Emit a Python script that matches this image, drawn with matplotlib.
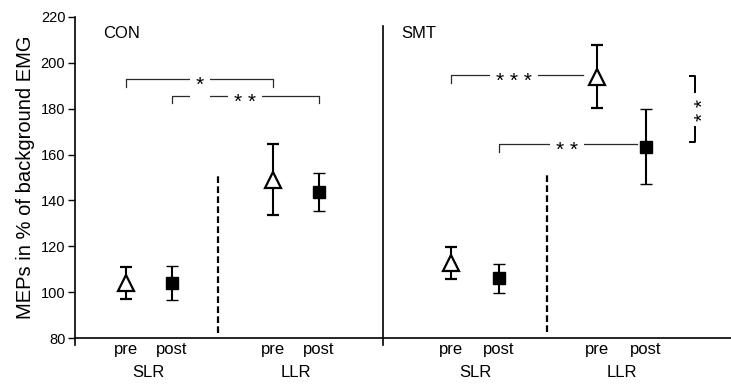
import matplotlib
matplotlib.use("Agg")
import matplotlib.pyplot as plt
import matplotlib.transforms as mtransforms

plt.rcParams['font.family'] = ['Liberation Sans', 'DejaVu Sans']

# ---- data ----
groups = ["CON", "SMT"]
conditions = ["pre", "post", "pre", "post"]
reflexes = ["SLR", "LLR"]
con_x = [1.1, 2.1, 4.3, 5.3]
smt_x = [8.17, 9.22, 11.35, 12.41]
con_mean = [104.0, 104.0, 149.0, 143.5]
con_err = [7.0, 7.5, 15.5, 8.3]
smt_mean = [112.6, 106.0, 194.0, 163.5]
smt_err = [6.9, 6.3, 13.7, 16.5]
markers = ["^", "s", "^", "s"]

fig = plt.figure(figsize=(7.31, 3.89), dpi=100)
ax = fig.add_axes([75/731, 51/389, 656/731, 321/389])
ax.set_xlim(0, 14.26)
ax.set_ylim(80, 220)

for xs, ms, es in [(con_x, con_mean, con_err), (smt_x, smt_mean, smt_err)]:
    for x, m, e, mk in zip(xs, ms, es, markers):
        if mk == "^":
            ax.errorbar(x, m, yerr=e, fmt="^", ms=11.5, mfc="white", mec="black",
                        mew=1.6, ecolor="black", elinewidth=1.5, capsize=4.6,
                        capthick=1.5, zorder=3)
        else:
            ax.errorbar(x, m, yerr=e, fmt="s", ms=9, mfc="black", mec="black",
                        mew=1.0, ecolor="black", elinewidth=1.5, capsize=4.6,
                        capthick=1.5, zorder=3)

# spines
for s in ["top", "right"]:
    ax.spines[s].set_visible(False)
ax.spines["left"].set_linewidth(1.2)
ax.spines["bottom"].set_linewidth(1.2)
ax.set_yticks(range(80, 221, 20))
ax.tick_params(axis="y", direction="out", length=5, width=1.0, labelsize=10.5, pad=2)
ax.set_xticks(con_x + smt_x)
ax.set_xticklabels(conditions + conditions)
ax.tick_params(axis="x", length=0, labelsize=12, pad=3)
ax.set_ylabel("MEPs in % of background EMG", fontsize=14.5, labelpad=4)

# small downward extension of the y axis
ax.plot([0, 0], [80, 77], color="black", lw=1.2, clip_on=False)

# panel divider and dashed separators
ax.plot([6.70, 6.70], [77, 216], color="black", lw=1.2, clip_on=False)
ax.plot([3.11, 3.11], [82, 151.5], color="black", lw=1.6, ls=(0, (3, 1.5)))
ax.plot([10.26, 10.26], [82.6, 151], color="black", lw=1.6, ls=(0, (3, 1.5)))

# titles
ax.text(0.61, 213, groups[0], fontsize=12, ha="left", va="center")
ax.text(7.09, 213, groups[1], fontsize=12, ha="left", va="center")

# group labels
trans = mtransforms.blended_transform_factory(ax.transData, ax.transAxes)
for xs in (con_x, smt_x):
    for i, r in enumerate(reflexes):
        xm = (xs[2*i] + xs[2*i+1]) / 2
        ax.text(xm, -0.085, r, transform=trans, fontsize=12, ha="center", va="top")

bcol = "#2a2a2a"
def stars(x, y, s):
    ax.annotate(s, (x, y), xytext=(0, -0.57*15), textcoords="offset points",
                ha="center", va="baseline", fontsize=15,
                bbox=dict(boxstyle="square,pad=0.3", fc="white", ec="none"), zorder=4)

def bracket(x1, x2, y, drop1, drop2, sx, s):
    xs, ys = [], []
    if drop1 is not None:
        xs.append(x1); ys.append(drop1)
    xs += [x1, x2]; ys += [y, y]
    if drop2 is not None:
        xs.append(x2); ys.append(drop2)
    ax.plot(xs, ys, color=bcol, lw=0.9, zorder=2)
    stars(sx, y, s)

bracket(con_x[0], con_x[2], 192.8, 189.3, 189.3, 2.72, "*")
bracket(con_x[1], con_x[3], 185.5, 182.4, 182.4, 3.70, "* *")
bracket(smt_x[0], 11.04, 194.7, 191.2, None, 9.54, "* * *")
bracket(smt_x[1], 12.22, 164.6, 161.1, None, 10.70, "* *")

# vertical bracket on right
ax.plot([13.36, 13.48, 13.48], [194.3, 194.3, 187.2], color="black", lw=1.4)
ax.plot([13.36, 13.48, 13.48], [165.5, 165.5, 172.0], color="black", lw=1.4)
ax.annotate("* *", (13.52, 179.4), xytext=(0.57*15, 0), textcoords="offset points",
            ha="center", va="baseline", rotation=90, rotation_mode="anchor", fontsize=15)

fig.savefig("out.png", dpi=100)
